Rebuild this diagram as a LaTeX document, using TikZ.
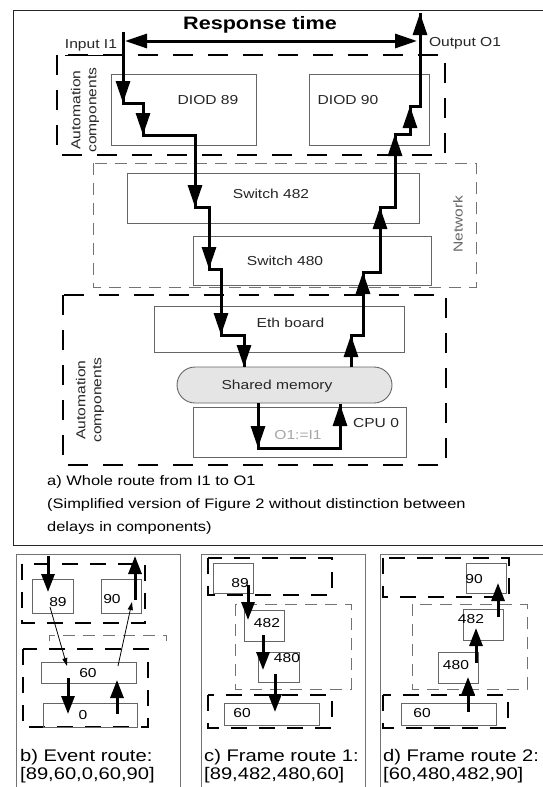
\documentclass[tikz,border=0pt]{standalone}
\usepackage{fontspec}
\setmainfont[FakeStretch=1.2]{Liberation Sans}
\usetikzlibrary{arrows.meta}
\newcommand\myfs[1]{\fontsize{#1}{#1}\selectfont}
\newcommand\myfsb[2]{\fontsize{#1}{#2}\selectfont}
\begin{document}
\begin{tikzpicture}[x=1pt,y=-1pt,
  thickdash/.style={line width=2pt, dash pattern=on 20pt off 15pt},
  sthickdash/.style={line width=2pt, dash pattern=on 16pt off 12pt},
  thindash/.style={line width=0.9pt, draw=black!55, dash pattern=on 12pt off 8pt},
  comp/.style={draw=black!60, line width=0.9pt, inner sep=0pt},
  route/.style={line width=3pt, line join=miter},
  rarr/.style={line width=3pt, -{Triangle[length=22pt,width=14pt]}},
  sarr/.style={line width=3pt, -{Triangle[length=18pt,width=13pt]}},
  tarr/.style={line width=0.8pt, -{Triangle[length=8pt,width=5pt]}},
  lbl/.style={inner sep=0pt, font=\myfs{13}, text=black!85},
  slbl/.style={inner sep=0pt, font=\myfs{13}},
  capsm/.style={inner sep=0pt, anchor=west, font=\myfs{16.8}},
  capa/.style={inner sep=0pt, anchor=west, font=\myfs{13.7}},
]
\useasboundingbox (0,0) rectangle (542,787);
\fill[white] (0,0) rectangle (542,787);

% ---------------- panel frames
\draw[black!85, line width=1pt] (13.5,10.5) rectangle (548,545);
\draw[black!55, line width=1pt] (16,554) rectangle (180,795);
\draw[black!55, line width=1pt] (201,554) rectangle (365,795);
\draw[black!55, line width=1pt] (380,554) rectangle (548,795);

% ---------------- panel a: groups
\draw[thickdash] (57,55) rectangle (445,155);
\draw[thindash] (93,163) rectangle (476,287);
\draw[thickdash] (63,295) rectangle (446,465);
\node[lbl, rotate=90, align=center, font=\myfsb{13}{16}] (autotop) at (85,110) {Automation\\components};
\node[lbl, rotate=90, align=center, font=\myfsb{13}{16}] (autobot) at (90,400) {Automation\\components};
\node[lbl, rotate=90, text=black!60] (netlbl) at (458,224) {Network};

% components
\node[comp, minimum width=145pt, minimum height=71pt] (diod89) at (183.5,109.5) {};
\node[comp, minimum width=120pt, minimum height=71pt] (diod90) at (369,109.5) {};
\node[comp, minimum width=292pt, minimum height=50pt] (sw482) at (273,198) {};
\node[comp, minimum width=238pt, minimum height=49pt] (sw480) at (312,260.5) {};
\node[comp, minimum width=250pt, minimum height=46pt] (eth) at (279,329) {};
\node[comp, minimum width=213pt, minimum height=50pt] (cpu) at (299.5,432) {};
\node[comp, fill=black!10, rounded corners=18pt, minimum width=215pt, minimum height=36pt] (shm) at (284.5,385) {};

\node[lbl] (tdiod89) at (208,100) {DIOD 89};
\node[lbl] (tdiod90) at (348,100) {DIOD 90};
\node[lbl] (tsw482) at (271,194) {Switch 482};
\node[lbl] (tsw480) at (285,260.5) {Switch 480};
\node[lbl] (teth) at (290.5,323) {Eth board};
\node[lbl] (tshm) at (277,386) {Shared memory};
\node[lbl] (tcpu) at (376,423) {CPU 0};
\node[lbl, text=black!35] (tprog) at (298,435) {O1:=I1};

% top labels
\node[inner sep=0pt, font=\bfseries\myfs{18}] (resp) at (260,25) {Response time};
\node[lbl] (inlbl) at (91,45) {Input I1};
\node[lbl] (outlbl) at (465,43) {Output O1};
\draw[line width=1pt] (65,55) -- (117,55);
\coordinate (rl) at (125,41);
\coordinate (rr) at (417,41);
\draw[line width=3pt, {Triangle[length=22pt,width=14pt]}-{Triangle[length=22pt,width=14pt]}] (rl) -- (rr);

% route down
\coordinate (p0) at (123,32);
\coordinate (p1) at (123,103);
\coordinate (p2) at (143,103);
\coordinate (p3) at (143,135);
\coordinate (p4) at (195,135);
\coordinate (p5) at (195,207);
\coordinate (p6) at (209,207);
\coordinate (p7) at (209,269);
\coordinate (p8) at (221,269);
\coordinate (p9) at (221,335);
\coordinate (p10) at (244,335);
\coordinate (p11) at (244,367);
\draw[route] (p0) -- (p1) -- (p2) -- (p3) -- (p4) -- (p5) -- (p6) -- (p7) -- (p8) -- (p9) -- (p10) -- (p11);
\draw[rarr] (p0) -- (p1);
\draw[rarr] (p2) -- (p3);
\draw[rarr] (p4) -- (p5);
\draw[rarr] (p6) -- (p7);
\draw[rarr] (p8) -- (p9);
\draw[rarr] (p10) -- (p11);

% CPU loop
\coordinate (r0) at (258,403);
\coordinate (r1) at (258,448);
\coordinate (r2) at (340,448);
\coordinate (r3) at (340,404);
\draw[route] (r0) -- (r1) -- (r2) -- (r3);
\draw[rarr] (r0) -- (r1);
\draw[rarr] (r2) -- (r3);

% route up
\coordinate (q0) at (351,367);
\coordinate (q1) at (351,335);
\coordinate (q2) at (363,335);
\coordinate (q3) at (363,272);
\coordinate (q4) at (380,272);
\coordinate (q5) at (380,207);
\coordinate (q6) at (395,207);
\coordinate (q7) at (395,134);
\coordinate (q8) at (410,134);
\coordinate (q9) at (410,106);
\coordinate (q10) at (420,106);
\coordinate (q11) at (420,13);
\draw[route] (q0) -- (q1) -- (q2) -- (q3) -- (q4) -- (q5) -- (q6) -- (q7) -- (q8) -- (q9) -- (q10) -- (q11);
\draw[rarr] (q0) -- (q1);
\draw[rarr] (q2) -- (q3);
\draw[rarr] (q4) -- (q5);
\draw[rarr] (q6) -- (q7);
\draw[rarr] (q8) -- (q9);
\draw[rarr] (q10) -- (q11);

% caption a
\node[capa] (ca1) at (47,482) {a) Whole route from I1 to O1};
\node[capa] (ca2) at (47,505) {(Simplified version of Figure 2 without distinction between};
\node[capa] (ca3) at (47,528) {delays in components)};

% ---------------- panel b
\draw[sthickdash] (22,564) rectangle (145,623);
\draw[thindash] (49,641) -- (49,635) -- (166,635) -- (166,641);
\draw[sthickdash] (23,649) rectangle (148,727);
\node[comp, minimum width=41pt, minimum height=34pt] (b89) at (52.5,596) {};
\node[comp, minimum width=40pt, minimum height=34pt] (b90) at (121,596) {};
\node[comp, minimum width=95pt, minimum height=21pt] (b60) at (88.5,672.5) {};
\node[comp, minimum width=94pt, minimum height=24pt] (b0) at (90,715) {};
\node[slbl] (tb89) at (58,602) {89};
\node[slbl] (tb90) at (112,599) {90};
\node[slbl] (tb60) at (88,673) {60};
\node[slbl] (tb0) at (83,715) {0};
\coordinate (ba0) at (48,556); \coordinate (ba1) at (48,592);
\coordinate (bb0) at (135,600); \coordinate (bb1) at (135,556);
\coordinate (bc0) at (68,678); \coordinate (bc1) at (68,714);
\coordinate (bd0) at (117,714); \coordinate (bd1) at (117,680);
\coordinate (be0) at (50,607); \coordinate (be1) at (67,666);
\coordinate (bf0) at (118,666); \coordinate (bf1) at (132,602);
\draw[sarr] (ba0) -- (ba1);
\draw[sarr] (bb0) -- (bb1);
\draw[sarr] (bc0) -- (bc1);
\draw[sarr] (bd0) -- (bd1);
\draw[tarr] (be0) -- (be1);
\draw[tarr] (bf0) -- (bf1);
\node[capsm] (cb1) at (20,757) {b) Event route:};
\node[capsm] (cb2) at (20,775) {[89,60,0,60,90]};

% ---------------- panel c
\draw[sthickdash] (208,558) rectangle (332,595);
\draw[thindash] (235,604) rectangle (351,689);
\draw[sthickdash] (208,695) rectangle (332,728);
\node[comp, minimum width=40pt, minimum height=30pt] (c89) at (233,578) {};
\node[comp, minimum width=40pt, minimum height=31pt] (c482) at (264,625.5) {};
\node[comp, minimum width=41pt, minimum height=30pt] (c480) at (278.5,667) {};
\node[comp, minimum width=95pt, minimum height=22pt] (c60) at (271.5,714) {};
\node[slbl] (tc89) at (240,583) {89};
\node[slbl] (tc482) at (267,623) {482};
\node[slbl] (tc480) at (287,658) {480};
\node[slbl] (tc60) at (242,713) {60};
\coordinate (ca0) at (248,585); \coordinate (ca1e) at (248,620);
\coordinate (cb0) at (263,635); \coordinate (cb1e) at (263,670);
\coordinate (cc0) at (275,674); \coordinate (cc1e) at (275,712);
\draw[sarr] (ca0) -- (ca1e);
\draw[sarr] (cb0) -- (cb1e);
\draw[sarr] (cc0) -- (cc1e);
\node[capsm] (cc1) at (204,757) {c) Frame route 1:};
\node[capsm] (cc2) at (204,775) {[89,482,480,60]};

% ---------------- panel d
\draw[sthickdash] (383,558) rectangle (509,597);
\draw[thindash] (412,604) rectangle (527,689);
\draw[sthickdash] (383,695) rectangle (508,728);
\node[comp, minimum width=40pt, minimum height=30pt] (d90) at (486,578) {};
\node[comp, minimum width=40pt, minimum height=31pt] (d482) at (483,624.5) {};
\node[comp, minimum width=40pt, minimum height=31pt] (d480) at (458,667.5) {};
\node[comp, minimum width=95pt, minimum height=22pt] (d60) at (448.5,714) {};
\node[slbl] (td90) at (474,579) {90};
\node[slbl] (td482) at (471,619) {482};
\node[slbl] (td480) at (456,665) {480};
\node[slbl] (td60) at (422,713) {60};
\coordinate (da0) at (468,712); \coordinate (da1) at (468,677);
\coordinate (db0) at (476,663); \coordinate (db1) at (476,628);
\coordinate (dc0) at (498,617); \coordinate (dc1) at (498,583);
\draw[sarr] (da0) -- (da1);
\draw[sarr] (db0) -- (db1);
\draw[sarr] (dc0) -- (dc1);
\node[capsm] (cd1) at (383,757) {d) Frame route 2:};
\node[capsm] (cd2) at (383,775) {[60,480,482,90]};
\end{tikzpicture}
\end{document}
